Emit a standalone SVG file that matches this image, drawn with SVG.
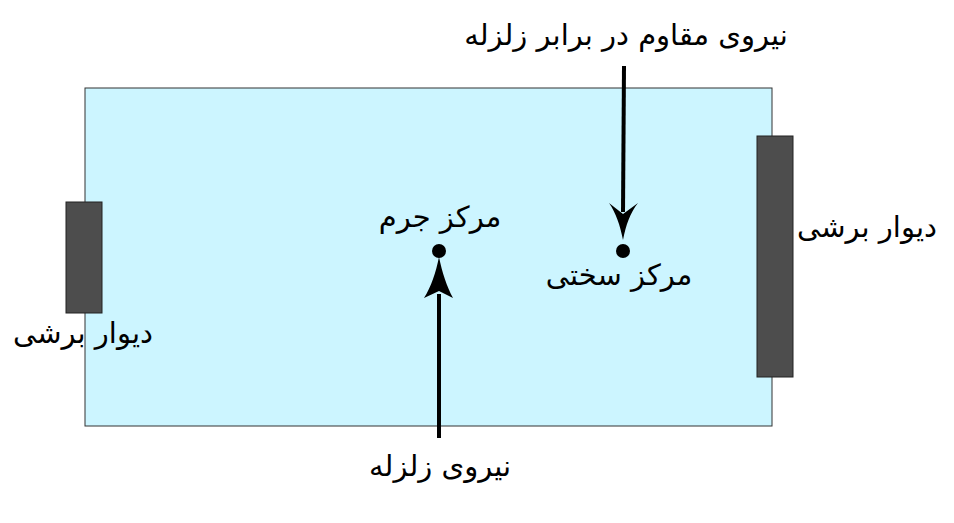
<svg xmlns="http://www.w3.org/2000/svg" width="954" height="523" viewBox="0 0 954 523">
<style>
.lbl{font-family:"DejaVu Sans","Noto Sans",sans-serif;font-size:29px;fill:#000;text-anchor:middle;direction:rtl}
.wall{fill:#4d4d4d;stroke:#222;stroke-width:1}
.ln{stroke:#000;stroke-width:4;fill:none}
</style>
<rect width="954" height="523" fill="#fff"/>
<g id="slab"><rect x="85" y="88" width="687" height="338" fill="#ccf5ff" stroke="#333" stroke-width="1"/></g>
<g id="wall-left"><rect class="wall" x="66" y="202" width="36" height="111"/></g>
<g id="wall-right"><rect class="wall" x="757" y="136" width="36" height="241"/></g>
<g id="center-mass"><circle cx="439" cy="251" r="7"/><text class="lbl" x="440" y="227">مرکز جرم</text></g>
<g id="center-stiffness"><circle cx="623" cy="251" r="7"/><text class="lbl" x="619" y="285">مرکز سختی</text></g>
<g id="label-resist"><text class="lbl" x="626" y="45">نیروی مقاوم در برابر زلزله</text></g>
<g id="label-quake"><text class="lbl" x="440" y="476">نیروی زلزله</text></g>
<g id="label-wall-right"><text class="lbl" x="867" y="237">دیوار برشی</text></g>
<g id="label-wall-left"><text class="lbl" x="83" y="343">دیوار برشی</text></g>
<g id="connectors">
<line class="ln" x1="624" y1="66" x2="623" y2="212"/>
<path d="M623,240 C620,225 616,213 609,203 L623,214 L638,203 C630,213 626,225 623,240 Z"/>
<line class="ln" x1="439" y1="438" x2="439" y2="294"/>
<path d="M439,257 C442,272 447,287 453,298 L439,291 L424,298 C431,287 436,272 439,257 Z"/>
</g>
</svg>
